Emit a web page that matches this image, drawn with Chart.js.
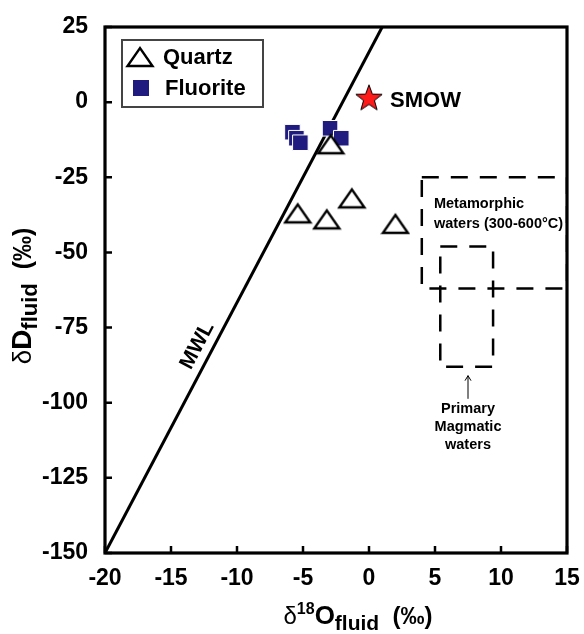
<!DOCTYPE html>
<html>
<head>
<meta charset="utf-8">
<script src="https://cdn.jsdelivr.net/npm/chart.js@4.4.0/dist/chart.umd.min.js"></script>
<style>
  html, body { margin: 0; padding: 0; background: #fff; }
  #wrap { width: 584px; height: 634px; }
</style>
</head>
<body>
<div id="wrap"><canvas id="chart" width="584" height="634"></canvas></div>
<script>
// Data
const quartzX = [-2.9, -5.4, -3.2, -1.3, 2.0];
const quartzY = [-14, -37, -39, -32, -40.5];
const fluoriteX = [-5.8, -5.5, -5.2, -2.95, -2.1];
const fluoriteY = [-10, -12, -13.5, -8.7, -12];
const smowX = [0];
const smowY = [1.5];
// Meteoric water line end points
const mwlX = [-20, 1.0];
const mwlY = [-150, 25];
// Dashed fields
const metaX = [4, 15, 15, 4, 4];
const metaY = [-25, -25, -62, -62, -25];
const magX = [5.4, 9.4, 9.4, 5.4, 5.4];
const magY = [-48, -48, -88, -88, -48];
// Axis ranges
const xMin = -20, xMax = 15, xStep = 5;
const yMin = -150, yMax = 25, yStep = 25;

const FONT = '"Liberation Sans", Arial, Helvetica, sans-serif';
const FLUORITE_COLOR = '#201b7e';

function pts(xs, ys) {
    return xs.map((x, i) => ({ x: x, y: ys[i] }));
}

// Open triangle marker
function makeTriangle() {
    const c = document.createElement('canvas');
    c.width = 30; c.height = 24;
    const g = c.getContext('2d');
    g.beginPath();
    g.moveTo(2.5, 21);
    g.lineTo(27.5, 21);
    g.lineTo(15, 3);
    g.closePath();
    g.fillStyle = '#fff';
    g.fill();
    g.lineWidth = 2.4;
    g.strokeStyle = '#000';
    g.stroke();
    return c;
}

// Red star marker
function makeStar() {
    const c = document.createElement('canvas');
    c.width = 32; c.height = 32;
    const g = c.getContext('2d');
    const cx = 16, cy = 17, ro = 13.8, ri = 5.7;
    g.beginPath();
    for (let i = 0; i < 10; i++) {
        const r = i % 2 === 0 ? ro : ri;
        const a = -Math.PI / 2 + i * Math.PI / 5;
        const px = cx + r * Math.cos(a), py = cy + r * Math.sin(a);
        if (i === 0) g.moveTo(px, py); else g.lineTo(px, py);
    }
    g.closePath();
    g.fillStyle = '#ff1a1a';
    g.fill();
    g.lineWidth = 1;
    g.strokeStyle = '#000';
    g.stroke();
    return c;
}

const triImg = makeTriangle();
const starImg = makeStar();

// Draw a row of text pieces centered on (cx, baseline cy)
function drawRuns(ctx, runs, cx, cy) {
    let w = 0;
    runs.forEach(r => { ctx.font = r.f; w += ctx.measureText(r.t).width; });
    let x = cx - w / 2;
    ctx.textAlign = 'left';
    ctx.textBaseline = 'alphabetic';
    runs.forEach(r => {
        ctx.font = r.f;
        ctx.fillText(r.t, x, cy + (r.dy || 0));
        x += ctx.measureText(r.t).width;
    });
}

const extras = {
    id: 'extras',
    afterDraw(chart) {
        const ctx = chart.ctx;
        const a = chart.chartArea;
        const xs = chart.scales.x, ys = chart.scales.y;
        ctx.save();
        ctx.fillStyle = '#000';
        ctx.strokeStyle = '#000';

        // frame
        ctx.lineWidth = 3.2;
        ctx.strokeRect(a.left, a.top, a.right - a.left, a.bottom - a.top);

        // inner ticks
        ctx.lineWidth = 2.5;
        ctx.beginPath();
        xs.ticks.forEach(t => {
            const px = xs.getPixelForValue(t.value);
            ctx.moveTo(px, a.bottom);
            ctx.lineTo(px, a.bottom - 7);
        });
        ys.ticks.forEach(t => {
            const py = ys.getPixelForValue(t.value);
            ctx.moveTo(a.left, py);
            ctx.lineTo(a.left + 7, py);
        });
        ctx.stroke();

        // MWL label along the line
        const p1x = xs.getPixelForValue(mwlX[0]), p1y = ys.getPixelForValue(mwlY[0]);
        const p2x = xs.getPixelForValue(mwlX[1]), p2y = ys.getPixelForValue(mwlY[1]);
        const ang = Math.atan2(p2y - p1y, p2x - p1x);
        ctx.save();
        ctx.translate(xs.getPixelForValue(-13.0), ys.getPixelForValue(-81));
        ctx.rotate(ang);
        ctx.font = 'bold 21px ' + FONT;
        ctx.textAlign = 'center';
        ctx.textBaseline = 'middle';
        ctx.fillText('MWL', 0, 0);
        ctx.restore();

        // SMOW label
        ctx.font = 'bold 22px ' + FONT;
        ctx.textAlign = 'left';
        ctx.textBaseline = 'middle';
        ctx.fillText('SMOW', xs.getPixelForValue(1.6), ys.getPixelForValue(0.7) + 1);

        // Metamorphic label
        ctx.font = 'bold 14.5px ' + FONT;
        ctx.fillText('Metamorphic', xs.getPixelForValue(4.92), ys.getPixelForValue(-33.9));
        ctx.fillText('waters (300-600\u00B0C)', xs.getPixelForValue(4.92), ys.getPixelForValue(-40.5));

        // Primary magmatic label and arrow
        ctx.textAlign = 'center';
        const mx = xs.getPixelForValue(7.5);
        ctx.fillText('Primary', mx, ys.getPixelForValue(-102));
        ctx.fillText('Magmatic', mx, ys.getPixelForValue(-108));
        ctx.fillText('waters', mx, ys.getPixelForValue(-114));
        const ay0 = ys.getPixelForValue(-98.7), ay1 = ys.getPixelForValue(-91);
        ctx.lineWidth = 1;
        ctx.beginPath();
        ctx.moveTo(mx, ay0);
        ctx.lineTo(mx, ay1);
        ctx.moveTo(mx - 3, ay1 + 5);
        ctx.lineTo(mx, ay1);
        ctx.lineTo(mx + 3, ay1 + 5);
        ctx.stroke();

        // legend
        ctx.lineWidth = 2;
        ctx.strokeStyle = '#444';
        ctx.strokeRect(122, 40, 141, 67);
        ctx.drawImage(triImg, 140 - 15, 57 - 12);
        ctx.fillStyle = FLUORITE_COLOR;
        ctx.fillRect(133, 80, 16, 16);
        ctx.fillStyle = '#000';
        ctx.font = 'bold 22px ' + FONT;
        ctx.textAlign = 'left';
        ctx.textBaseline = 'middle';
        ctx.fillText('Quartz', 163, 58);
        ctx.fillText('Fluorite', 165, 89);

        // axis titles
        drawRuns(ctx, [
            { t: '\u03B4', f: '24px ' + FONT },
            { t: '18', f: 'bold 16px ' + FONT, dy: -10 },
            { t: 'O', f: 'bold 26px ' + FONT },
            { t: 'fluid', f: 'bold 21px ' + FONT, dy: 6 },
            { t: '  (\u2030)', f: 'bold 24px ' + FONT }
        ], 358, 624);

        ctx.save();
        ctx.translate(31, 296);
        ctx.rotate(-Math.PI / 2);
        drawRuns(ctx, [
            { t: '\u03B4', f: '26px ' + FONT },
            { t: 'D', f: 'bold 28px ' + FONT },
            { t: 'fluid', f: 'bold 22px ' + FONT, dy: 6 },
            { t: '  (\u2030)', f: 'bold 25px ' + FONT }
        ], 0, 0);
        ctx.restore();

        ctx.restore();
    }
};

const ctx = document.getElementById('chart').getContext('2d');
new Chart(ctx, {
    type: 'scatter',
    data: {
        datasets: [
            {
                label: 'Quartz',
                data: pts(quartzX, quartzY),
                pointStyle: triImg,
                pointRadius: 12
            },
            {
                label: 'Fluorite',
                data: pts(fluoriteX, fluoriteY),
                pointStyle: 'rect',
                pointRadius: 11,
                backgroundColor: FLUORITE_COLOR,
                borderColor: '#ffffff',
                borderWidth: 1
            },
            {
                label: 'SMOW',
                data: pts(smowX, smowY),
                pointStyle: starImg,
                pointRadius: 15
            },
            {
                label: 'MWL',
                data: pts(mwlX, mwlY),
                showLine: true,
                pointRadius: 0,
                borderColor: '#000',
                borderWidth: 3
            },
            {
                label: 'Metamorphic',
                data: pts(metaX, metaY),
                showLine: true,
                pointRadius: 0,
                borderColor: '#000',
                borderWidth: 2.5,
                borderDash: [17, 12]
            },
            {
                label: 'Magmatic',
                data: pts(magX, magY),
                showLine: true,
                pointRadius: 0,
                borderColor: '#000',
                borderWidth: 2.5,
                borderDash: [17, 12]
            }
        ]
    },
    options: {
        responsive: false,
        animation: false,
        devicePixelRatio: 1,
        layout: { padding: { top: 27, right: 17, left: 0, bottom: 0 } },
        plugins: {
            legend: { display: false },
            tooltip: { enabled: false }
        },
        scales: {
            x: {
                type: 'linear',
                min: xMin,
                max: xMax,
                afterFit: s => { s.height = 81; s.paddingLeft = 0; s.paddingRight = 0; },
                grid: { drawOnChartArea: false, drawTicks: false },
                border: { display: false },
                ticks: {
                    stepSize: xStep,
                    autoSkip: false,
                    maxRotation: 0,
                    padding: 12,
                    color: '#000',
                    font: { family: FONT, size: 23, weight: 'bold' }
                }
            },
            y: {
                type: 'linear',
                min: yMin,
                max: yMax,
                afterFit: s => { s.width = 105; s.paddingTop = 0; s.paddingBottom = 0; },
                grid: { drawOnChartArea: false, drawTicks: false },
                border: { display: false },
                ticks: {
                    stepSize: yStep,
                    autoSkip: false,
                    padding: 17,
                    color: '#000',
                    font: { family: FONT, size: 23, weight: 'bold' }
                }
            }
        }
    },
    plugins: [extras]
});
</script>
</body>
</html>
